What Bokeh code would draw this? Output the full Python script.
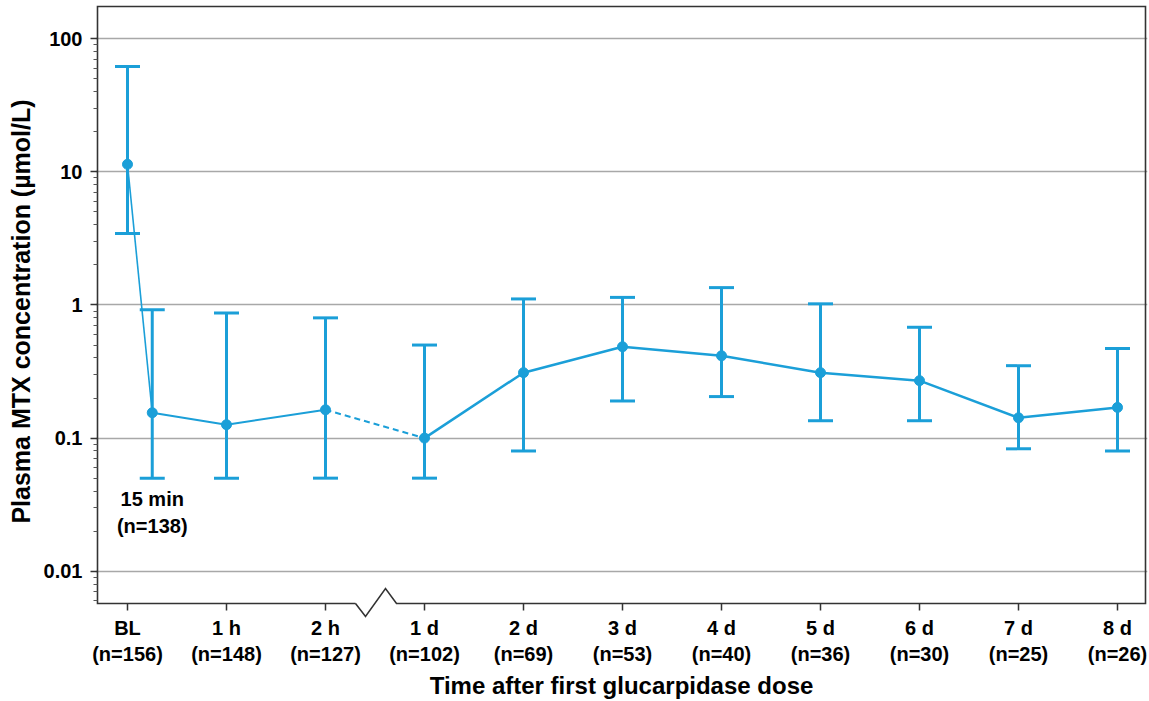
from bokeh.plotting import figure
from bokeh.models import (ColumnDataSource, Whisker, TeeHead, FixedTicker, CustomJSTickFormatter,
                          Label, Range1d)
from bokeh.embed import file_html
from bokeh.resources import INLINE

# ---------------- data ----------------
timepoints = ["BL", "15 min", "1 h", "2 h", "1 d", "2 d", "3 d", "4 d", "5 d", "6 d", "7 d", "8 d"]
time_index = [0, 0.25, 1, 2, 3, 4, 5, 6, 7, 8, 9, 10]
n_patients = [156, 138, 148, 127, 102, 69, 53, 40, 36, 30, 25, 26]
mtx_mean = [11.4, 0.155, 0.126, 0.163, 0.100, 0.31, 0.485, 0.415, 0.31, 0.27, 0.142, 0.17]
mtx_upper = [62, 0.92, 0.87, 0.80, 0.50, 1.11, 1.14, 1.35, 1.02, 0.68, 0.35, 0.47]
mtx_lower = [3.45, 0.05, 0.05, 0.05, 0.05, 0.08, 0.19, 0.205, 0.135, 0.135, 0.083, 0.08]
y_ticks = [0.01, 0.1, 1, 10, 100]

COLOR = "#1b9fd8"
FRAME = "#333333"
FONT = "Liberation Sans"

axis_idx = [t for t, lab in zip(time_index, timepoints) if lab != "15 min"]
axis_labels = {int(t): f"{lab}\n(n={n})" for t, lab, n in zip(time_index, timepoints, n_patients) if lab != "15 min"}

# ---- layout helpers (pixel layout -> data space) ----
W, H = 1149, 701
FL, FR, FT, FB = 95, 1147, 4, 619          # plotting frame in canvas px
def xd(px):  # canvas x -> data x
    return (px - 127) / 99.0
def yd(py):  # canvas y -> data y (log)
    return 10 ** (2 - (py - 38.3) / 133.33)

p = figure(width=W, height=H, y_axis_type="log", output_backend="svg", toolbar_location=None,
           x_range=Range1d(xd(FL), xd(FR)), y_range=Range1d(yd(FB), yd(FT)),
           min_border_left=FL, min_border_right=W - FR, min_border_top=FT, min_border_bottom=H - FB)
p.outline_line_color = None
p.background_fill_color = "white"
p.border_fill_color = "white"

# grid
p.xgrid.visible = False
p.ygrid.grid_line_color = "#a8a8a8"
p.ygrid.grid_line_width = 1.5

# y axis
sx0, sx1, sy0, sy1 = xd(97), xd(1145), yd(604), yd(6)   # box spines
minor = [m * d for d in [0.001, 0.01, 0.1, 1, 10, 100] for m in range(2, 10) if sy0 <= m * d <= sy1]
p.yaxis.ticker = FixedTicker(ticks=y_ticks, minor_ticks=minor)
p.yaxis.formatter = CustomJSTickFormatter(code="return tick.toString();")
p.yaxis.axis_line_color = None
p.yaxis.major_tick_out = 5
p.yaxis.major_tick_in = 2
p.yaxis.minor_tick_out = 2
p.yaxis.minor_tick_in = 2
p.yaxis.major_tick_line_color = FRAME
p.yaxis.major_tick_line_width = 1.5
p.yaxis.minor_tick_line_color = "#555555"
p.yaxis.major_label_standoff = 8
p.yaxis.major_label_text_font = FONT
p.yaxis.major_label_text_font_style = "bold"
p.yaxis.major_label_text_font_size = "20px"
p.yaxis.major_label_text_color = "black"
p.yaxis.axis_label = "Plasma MTX concentration (µmol/L)"
p.yaxis.axis_label_text_font = FONT
p.yaxis.axis_label_text_font_style = "bold"
p.yaxis.axis_label_text_font_size = "25px"
p.yaxis.axis_label_text_color = "black"
p.yaxis.axis_label_standoff = 6

# x axis (ticks drawn as segments at the box edge)
p.xaxis.ticker = FixedTicker(ticks=axis_idx)
p.xaxis.major_label_overrides = axis_labels
p.xaxis.axis_line_color = None
p.xaxis.major_tick_out = 0
p.xaxis.major_tick_in = 0
p.xaxis.major_tick_line_color = None
p.xaxis.minor_tick_line_color = None
p.xaxis.major_label_standoff = -2
p.xaxis.major_label_text_font = FONT
p.xaxis.major_label_text_font_style = "bold"
p.xaxis.major_label_text_font_size = "20px"
p.xaxis.major_label_text_color = "black"
p.xaxis.axis_label = "Time after first glucarpidase dose"
p.xaxis.axis_label_text_font = FONT
p.xaxis.axis_label_text_font_style = "bold"
p.xaxis.axis_label_text_font_size = "24px"
p.xaxis.axis_label_text_color = "black"
p.xaxis.axis_label_standoff = 4

# box with an axis break on the bottom edge
bx = [xd(355), xd(365), xd(385), xd(396)]
p.line([bx[0], sx0, sx0, sx1, sx1, bx[3], bx[2], bx[1], bx[0]],
       [sy0, sy0, sy1, sy1, sy0, sy0, yd(589), yd(617), sy0],
       line_color=FRAME, line_width=1.6, line_join="miter")
p.segment(x0=axis_idx, x1=axis_idx, y0=[sy0] * len(axis_idx), y1=[yd(611)] * len(axis_idx),
          line_color=FRAME, line_width=1.5)

src = ColumnDataSource(dict(x=time_index, mean=mtx_mean, upper=mtx_upper, lower=mtx_lower))

# error bars
w = Whisker(base="x", upper="upper", lower="lower", source=src, dimension="height",
            line_color=COLOR, line_width=3,
            upper_head=TeeHead(size=25, line_color=COLOR, line_width=3),
            lower_head=TeeHead(size=25, line_color=COLOR, line_width=3))
p.add_layout(w)

# connecting lines
p.line(time_index[0:2], mtx_mean[0:2], line_color=COLOR, line_width=1.6)
p.line(time_index[1:4], mtx_mean[1:4], line_color=COLOR, line_width=2)
p.line(time_index[3:5], mtx_mean[3:5], line_color=COLOR, line_width=2, line_dash="6 4")
p.line(time_index[4:], mtx_mean[4:], line_color=COLOR, line_width=2.5)
p.scatter(time_index, mtx_mean, size=10, color=COLOR)

# 15 min annotation
i15 = timepoints.index("15 min")
p.add_layout(Label(x=time_index[i15], y=mtx_lower[i15] * 0.84, x_units="data", y_units="data",
                   text=f"{timepoints[i15]}\n(n={n_patients[i15]})", text_align="center", text_baseline="top",
                   text_font=FONT, text_font_style="bold", text_font_size="20px", text_color="black"))

open("out.html", "w").write(file_html(p, INLINE))
